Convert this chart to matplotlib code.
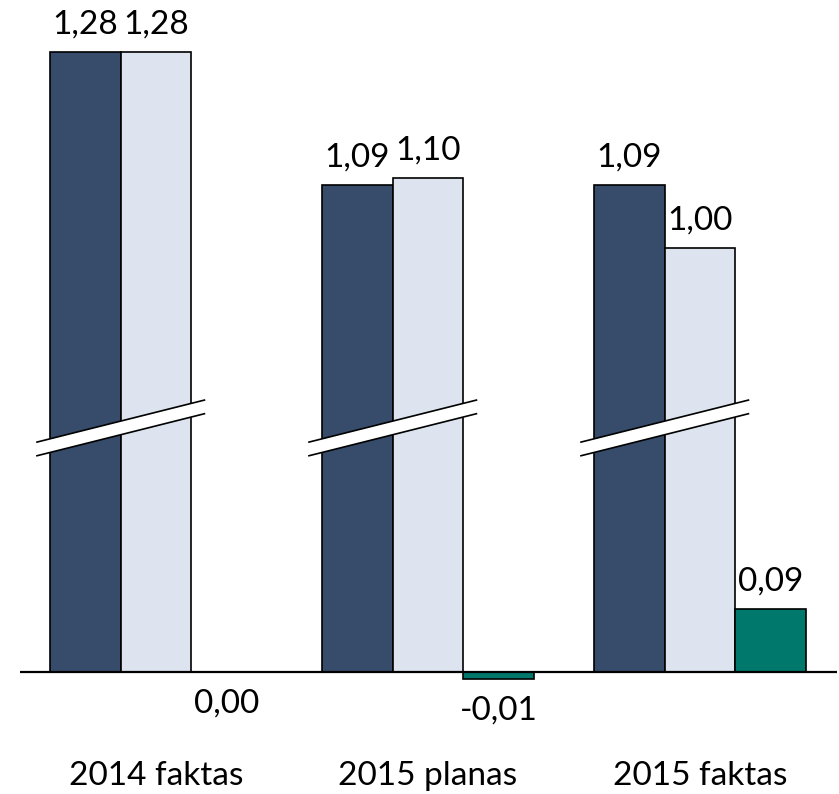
import matplotlib.pyplot as plt
from matplotlib.patches import Polygon

plt.rcParams['font.family'] = ['Lato', 'DejaVu Sans']

categories = ['2014 faktas', '2015 planas', '2015 faktas']
series_dark = [1.28, 1.09, 1.09]
series_light = [1.28, 1.10, 1.00]
series_green = [0.00, -0.01, 0.09]

dark_color = '#374C6B'
light_color = '#DDE4EF'
green_color = '#00786C'

# broken axis: large values are drawn shortened by CUT
CUT = 0.394
BREAK_AT = 0.5


def shown(v):
    return v - CUT if v > BREAK_AT else v


def fmt(v):
    return f'{v:.2f}'.replace('.', ',')


fig = plt.figure(figsize=(8.39, 7.94), dpi=100)
ax = fig.add_axes([0, 0, 1, 1])
ax.set_xlim(-0.5735, 2.511)
ax.set_ylim(-0.174, 0.96)
ax.axis('off')

w = 0.26
edge_kw = dict(edgecolor='black', linewidth=1.2)

for i, cat in enumerate(categories):
    for offset, vals, col in [(-w, series_dark, dark_color),
                              (0, series_light, light_color),
                              (w, series_green, green_color)]:
        v = vals[i]
        h = shown(v)
        ax.bar(i + offset, h, width=w, color=col, zorder=2, **edge_kw)
        if v > 0:
            ax.annotate(fmt(v), (i + offset, h), xytext=(0, 9), textcoords='offset points',
                        ha='center', va='bottom', fontsize=24)
        else:
            ax.annotate(fmt(v), (i + offset, h), xytext=(0, -12), textcoords='offset points',
                        ha='center', va='top', fontsize=24)

    # break marks across the two tall bars
    x0, x1 = i - 0.4375, i + 0.178
    y0, y1 = 0.3286, 0.3886
    t = 0.0195
    ax.add_patch(Polygon([(x0, y0), (x1, y1), (x1, y1 - t), (x0, y0 - t)],
                         closed=True, facecolor='white', edgecolor='none', zorder=3))
    ax.plot([x0, x1], [y0, y1], color='black', lw=1.2, zorder=4)
    ax.plot([x0, x1], [y0 - t, y1 - t], color='black', lw=1.2, zorder=4)

    ax.text(i, -0.149, cat, ha='center', va='center', fontsize=24)

ax.plot([-0.5, 2.505], [0, 0], color='black', lw=1.6, zorder=5, solid_capstyle='butt')

fig.savefig('out.png', dpi=100)
